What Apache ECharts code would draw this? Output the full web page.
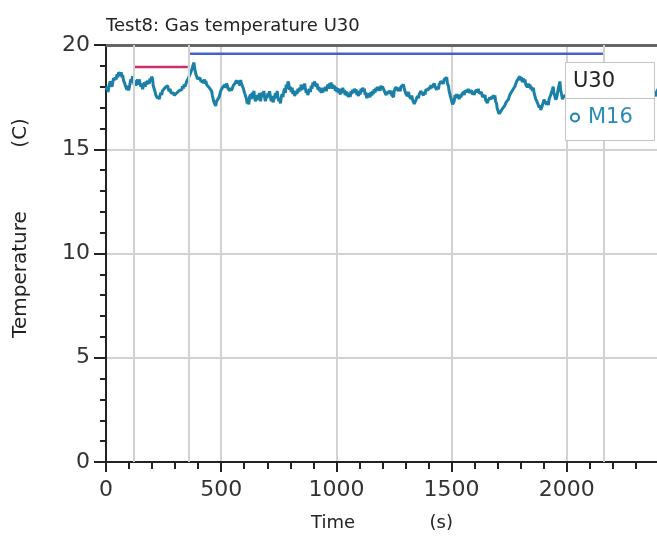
<!DOCTYPE html>
<html>
<head>
<meta charset="utf-8">
<script src="https://cdn.jsdelivr.net/npm/echarts@6/dist/echarts.min.js"></script>
<style>
  html, body { margin: 0; padding: 0; background: #fff; }
  #chart { width: 657px; height: 538px; }
</style>
</head>
<body>
<div id="chart"></div>
<script>
// Gas temperature at U30, thermocouple M16: [time (s), temperature (C)]
const m16 = [
  [0,17.84],[5,18.0],[9,17.75],[14,18.1],[18,18.25],[22,18.2],[26,18.0],[30,18.25],[33,18.42],[36,18.3],[40,18.45],[44,18.35],
  [48,18.6],[52,18.45],[55,18.7],[58,18.75],[62,18.55],[66,18.7],[69,18.45],[72,18.56],[76,18.3],[80,18.2],[84,18.05],[87,18.0],
  [91,17.85],[94,18.05],[98,17.82],[101,17.95],[105,18.2],[108,18.35],[111,18.2],[115,18.5],[119,18.25],[122,18.1],[126,18.3],[130,18.05],
  [134,18.25],[137,18.35],[141,18.1],[144,18.35],[148,18.15],[151,18.0],[155,18.15],[159,17.88],[163,18.1],[167,18.2],[170,18.0],[174,18.25],
  [177,18.1],[180,18.28],[184,18.35],[188,18.15],[191,18.4],[195,18.25],[198,18.48],[202,18.38],[205,18.05],[209,17.9],[213,17.75],[216,17.6],
  [220,17.65],[224,17.45],[227,17.55],[231,17.4],[235,17.6],[238,17.72],[242,17.6],[245,17.8],[249,17.88],[253,17.75],[256,17.95],[260,18.02],
  [263,17.9],[267,18.05],[271,17.88],[274,17.78],[278,17.9],[282,17.7],[285,17.75],[289,17.62],[293,17.7],[296,17.58],[300,17.66],[303,17.55],
  [307,17.7],[311,17.75],[314,17.65],[318,17.82],[321,17.75],[325,17.88],[329,17.85],[332,18.02],[336,17.92],[339,18.1],[343,18.0],[346,18.12],
  [350,18.25],[354,18.22],[357,18.4],[361,18.35],[365,18.6],[368,18.68],[372,18.8],[375,18.75],[378,19.05],[382,19.15],[385,18.85],[388,18.72],
  [390,18.6],[394,18.55],[397,18.38],[401,18.45],[404,18.3],[408,18.42],[411,18.28],[415,18.35],[419,18.3],[422,18.2],[426,18.35],[430,18.15],
  [433,18.28],[437,18.1],[441,18.08],[444,18.15],[448,17.95],[451,18.0],[455,17.88],[459,17.78],[462,17.55],[466,17.5],[469,17.25],[473,17.22],
  [476,17.08],[480,17.3],[483,17.35],[487,17.25],[491,17.5],[494,17.55],[498,17.8],[502,17.82],[505,17.95],[509,17.98],[512,17.88],[516,18.1],
  [520,17.95],[523,18.15],[527,18.05],[530,17.9],[534,17.95],[538,17.8],[541,17.95],[545,17.82],[548,17.9],[552,18.05],[555,18.0],[559,18.15],
  [563,18.1],[566,18.3],[570,18.28],[573,18.15],[577,18.3],[581,18.05],[584,18.32],[588,18.15],[592,18.2],[595,17.95],[599,17.92],[602,17.68],
  [606,17.76],[609,17.45],[613,17.2],[616,17.35],[620,17.15],[623,17.5],[627,17.62],[631,17.4],[634,17.72],[638,17.55],[642,17.8],[645,17.45],
  [649,17.3],[652,17.6],[656,17.35],[660,17.62],[663,17.4],[667,17.7],[671,17.3],[674,17.55],[678,17.72],[681,17.5],[685,17.8],[689,17.45],
  [692,17.3],[696,17.58],[699,17.45],[703,17.7],[707,17.55],[710,17.78],[714,17.5],[717,17.3],[721,17.55],[725,17.25],[728,17.2],[732,17.5],
  [735,17.68],[739,17.45],[743,17.8],[746,17.5],[750,17.3],[753,17.45],[757,17.2],[761,17.5],[764,17.65],[768,17.5],[771,17.75],[775,17.9],
  [779,17.7],[782,18.1],[786,17.9],[790,18.25],[793,18.15],[797,17.85],[800,18.0],[804,17.75],[808,17.95],[811,17.65],[815,17.8],[819,17.55],
  [822,17.6],[826,17.8],[829,17.65],[833,17.9],[837,17.75],[840,17.95],[844,17.82],[847,18.1],[851,17.85],[855,18.05],[858,17.9],[862,18.15],
  [865,17.95],[869,17.7],[872,17.85],[876,17.6],[880,17.68],[883,17.9],[887,17.75],[891,18.05],[894,17.9],[898,18.2],[901,18.05],[905,18.25],
  [909,18.3],[912,18.0],[916,18.15],[920,17.85],[923,18.0],[927,17.78],[930,17.95],[934,17.7],[937,17.85],[941,17.72],[945,17.95],[948,17.8],
  [952,18.0],[956,17.78],[959,17.95],[963,18.1],[966,17.9],[970,18.15],[974,18.0],[977,18.2],[981,17.9],[984,18.1],[988,17.92],[992,18.05],
  [995,17.8],[999,17.98],[1002,17.75],[1006,17.92],[1010,17.7],[1013,17.85],[1017,17.62],[1020,17.9],[1024,17.7],[1028,17.95],[1031,17.68],[1035,17.85],
  [1038,17.6],[1042,17.78],[1046,17.55],[1049,17.72],[1053,17.5],[1056,17.65],[1060,17.52],[1064,17.8],[1067,17.65],[1071,17.85],[1074,17.7],[1078,17.9],
  [1082,17.75],[1085,17.88],[1089,17.6],[1092,17.75],[1096,17.55],[1100,17.8],[1103,17.62],[1107,17.9],[1110,17.75],[1114,17.95],[1118,17.78],[1121,17.9],
  [1125,17.6],[1128,17.72],[1132,17.45],[1136,17.6],[1139,17.48],[1143,17.7],[1146,17.5],[1150,17.75],[1154,17.58],[1157,17.8],[1161,17.65],[1164,17.88],
  [1168,17.72],[1172,17.95],[1175,17.8],[1179,18.0],[1182,17.82],[1186,17.95],[1190,17.8],[1193,18.05],[1197,17.9],[1200,18.0],[1204,18.05],[1208,17.8],
  [1211,17.78],[1215,17.6],[1219,17.62],[1222,17.75],[1226,17.65],[1229,17.82],[1233,17.7],[1237,17.8],[1240,17.6],[1244,17.68],[1248,17.5],[1251,17.8],
  [1255,17.75],[1258,17.98],[1262,17.9],[1266,18.05],[1269,17.8],[1273,17.95],[1277,17.78],[1280,18.0],[1284,17.92],[1287,18.05],[1291,18.1],[1295,17.88],
  [1298,17.85],[1302,17.65],[1305,17.72],[1309,17.55],[1313,17.75],[1316,17.55],[1320,17.6],[1324,17.42],[1327,17.58],[1331,17.35],[1335,17.4],[1338,17.18],
  [1342,17.22],[1345,17.35],[1349,17.3],[1352,17.55],[1356,17.45],[1360,17.65],[1363,17.6],[1367,17.8],[1370,17.7],[1374,17.78],[1378,17.58],[1381,17.75],
  [1385,17.62],[1388,17.85],[1392,17.78],[1396,17.9],[1399,17.85],[1403,17.98],[1406,17.88],[1410,18.08],[1414,17.95],[1417,18.0],[1421,17.9],[1424,18.15],
  [1428,18.02],[1432,18.05],[1435,17.85],[1439,18.0],[1443,17.88],[1446,18.1],[1450,18.05],[1453,18.25],[1457,18.18],[1461,18.3],[1464,18.15],[1468,18.35],
  [1471,18.28],[1475,18.42],[1479,18.45],[1482,18.15],[1486,18.05],[1489,17.8],[1493,17.8],[1496,17.5],[1500,17.5],[1504,17.15],[1507,17.2],[1511,17.3],
  [1515,17.6],[1518,17.45],[1522,17.65],[1526,17.45],[1529,17.62],[1533,17.4],[1537,17.6],[1540,17.5],[1544,17.62],[1547,17.55],[1551,17.75],[1555,17.6],
  [1558,17.82],[1562,17.72],[1565,17.85],[1569,17.75],[1572,17.9],[1576,17.72],[1580,17.8],[1583,17.68],[1587,17.82],[1590,17.62],[1594,17.72],[1598,17.6],
  [1601,17.75],[1605,17.68],[1608,17.85],[1612,17.72],[1616,17.9],[1619,17.7],[1623,17.75],[1626,17.62],[1630,17.72],[1634,17.5],[1637,17.62],[1641,17.48],
  [1645,17.6],[1648,17.35],[1652,17.42],[1655,17.22],[1659,17.35],[1663,17.28],[1666,17.48],[1670,17.38],[1673,17.52],[1677,17.42],[1681,17.6],[1684,17.45],
  [1688,17.58],[1691,17.3],[1695,17.2],[1698,16.95],[1702,16.95],[1706,16.7],[1709,16.75],[1713,16.68],[1717,16.88],[1720,16.82],[1724,17.0],[1727,16.92],
  [1731,17.1],[1735,17.05],[1738,17.28],[1742,17.2],[1746,17.38],[1749,17.4],[1753,17.62],[1756,17.55],[1760,17.75],[1764,17.7],[1767,17.88],[1771,17.85],
  [1774,18.0],[1778,17.98],[1782,18.25],[1785,18.18],[1789,18.38],[1793,18.35],[1796,18.5],[1800,18.3],[1803,18.45],[1807,18.22],[1811,18.4],[1814,18.2],
  [1818,18.35],[1822,18.1],[1826,18.18],[1829,17.98],[1833,18.15],[1836,17.95],[1840,18.1],[1844,17.88],[1847,18.0],[1851,17.8],[1855,17.95],[1858,17.7],
  [1862,17.65],[1865,17.42],[1869,17.5],[1873,17.22],[1876,17.28],[1880,17.0],[1884,17.1],[1887,16.88],[1891,16.85],[1894,17.1],[1898,17.15],[1901,17.38],
  [1905,17.28],[1908,17.35],[1912,17.15],[1916,17.3],[1920,17.12],[1923,17.4],[1927,17.38],[1930,17.6],[1934,17.52],[1937,17.85],[1941,18.0],[1944,17.7],
  [1948,17.62],[1952,17.38],[1956,17.48],[1959,17.55],[1963,17.9],[1966,17.95],[1970,18.25],[1973,17.85],[1977,17.65],[1981,17.4],[1985,17.5],[1988,17.45],
  [1995,17.6],[2010,17.7],[2025,17.85],[2040,17.75],[2055,17.9],[2070,18.0],[2085,17.85],[2100,17.7],[2115,17.8],[2130,17.95],[2145,17.85],[2160,17.7],
  [2175,17.8],[2190,17.9],[2205,17.75],[2220,17.65],[2235,17.8],[2250,17.85],[2265,17.7],[2280,17.6],[2295,17.75],[2310,17.85],[2325,17.7],[2340,17.6],
  [2355,17.75],[2365,17.95],[2372,18.1],[2378,17.8],[2384,17.55],[2390,17.7],[2396,17.9]
];

// Test stage boundaries (s)
const stageTimes = [120, 357, 2162];
// Set-point segments: [time, temperature]
const redSegment = [[120, 18.95], [355, 18.95]];
const blueSegment = [[360, 19.58], [2162, 19.58]];

const xTicks = { min: 0, max: 2500, step: 500 };
const yTicks = { min: 0, max: 20, step: 5 };

const FONT = 'DejaVu Sans';
const chart = echarts.init(document.getElementById('chart'), null, { renderer: 'canvas' });

chart.setOption({
  animation: false,
  backgroundColor: '#ffffff',
  title: {
    text: 'Test8: Gas temperature U30',
    left: 106,
    top: 17,
    padding: 0,
    textStyle: { fontFamily: FONT, fontSize: 18, fontWeight: 'normal', color: '#222' }
  },
  grid: { left: 106, top: 45, width: 576, height: 417, containLabel: false, outerBoundsMode: 'none' },
  xAxis: [
    {
      type: 'value',
      min: xTicks.min,
      max: xTicks.max,
      interval: xTicks.step,
      axisLine: { onZero: false, lineStyle: { color: '#222', width: 2 } },
      axisTick: { show: true, length: 10, lineStyle: { color: '#222', width: 2 } },
      minorTick: { show: true, splitNumber: 5, length: 7, lineStyle: { color: '#222', width: 2 } },
      axisLabel: {
        margin: 17, fontFamily: FONT, fontSize: 22, color: '#333', showMaxLabel: false,
        formatter: v => String(v)
      },
      splitLine: { show: true, lineStyle: { color: '#d2d2d2', width: 2 } },
      minorSplitLine: { show: false }
    },
    {
      type: 'value',
      position: 'top',
      min: xTicks.min,
      max: xTicks.max,
      axisLine: { show: true, onZero: false, lineStyle: { color: '#666', width: 3 } },
      axisTick: { show: false },
      axisLabel: { show: false },
      splitLine: { show: false }
    }
  ],
  yAxis: {
    type: 'value',
    min: yTicks.min,
    max: yTicks.max,
    interval: yTicks.step,
    axisLine: { show: true, onZero: false, lineStyle: { color: '#222', width: 2 } },
    axisTick: { show: true, length: 12, lineStyle: { color: '#222', width: 2 } },
    minorTick: { show: true, splitNumber: 5, length: 6, lineStyle: { color: '#222', width: 2 } },
    axisLabel: { margin: 16, fontFamily: FONT, fontSize: 22, color: '#333', formatter: v => String(v) },
    splitLine: { show: true, lineStyle: { color: '#d2d2d2', width: 2 } }
  },
  legend: {
    data: [{ name: 'M16', icon: 'circle' }],
    left: 570,
    top: 107,
    padding: 0,
    itemWidth: 8,
    itemHeight: 8,
    z: 20,
    itemStyle: { color: '#ffffff', borderColor: '#1b82ad', borderWidth: 2 },
    textStyle: { fontFamily: FONT, fontSize: 21, color: '#2a8cb6', padding: [0, 0, 0, 4] }
  },
  graphic: [
    {
      type: 'rect',
      z: 10,
      shape: { x: 565.5, y: 62.5, width: 89, height: 78 },
      style: { fill: '#ffffff', stroke: '#c4c4c4', lineWidth: 1 }
    },
    {
      type: 'line',
      z: 11,
      shape: { x1: 565.5, y1: 98.5, x2: 654.5, y2: 98.5 },
      style: { stroke: '#c4c4c4', lineWidth: 1 }
    },
    {
      type: 'text',
      z: 11,
      x: 573,
      y: 82,
      style: { text: 'U30', fontFamily: FONT, fontSize: 21, fill: '#222', verticalAlign: 'middle' }
    },
    {
      type: 'text',
      x: 21,
      y: 228,
      rotation: Math.PI / 2,
      style: {
        text: 'Temperature          (C)',
        fontFamily: FONT, fontSize: 20, fill: '#222',
        align: 'center', verticalAlign: 'middle'
      }
    },
    {
      type: 'text',
      x: 382,
      y: 523,
      style: {
        text: 'Time             (s)',
        fontFamily: FONT, fontSize: 18, fill: '#222',
        align: 'center', verticalAlign: 'middle'
      }
    }
  ],
  series: [
    {
      name: 'stages',
      type: 'line',
      data: [],
      z: 1,
      silent: true,
      markLine: {
        silent: true,
        symbol: 'none',
        label: { show: false },
        lineStyle: { color: '#d2d2d2', width: 2, type: 'solid' },
        data: stageTimes.map(t => ({ xAxis: t }))
      }
    },
    {
      name: 'setpoint-1',
      type: 'line',
      data: redSegment,
      showSymbol: false,
      silent: true,
      z: 2,
      lineStyle: { color: '#c8306a', width: 2.5 }
    },
    {
      name: 'setpoint-2',
      type: 'line',
      data: blueSegment,
      showSymbol: false,
      silent: true,
      z: 2,
      lineStyle: { color: '#4a62c8', width: 2.5 }
    },
    {
      name: 'M16',
      type: 'line',
      data: m16,
      showSymbol: false,
      z: 3,
      color: '#1b82ad',
      lineStyle: { color: '#1b80a8', width: 3 }
    }
  ]
});
</script>
</body>
</html>
